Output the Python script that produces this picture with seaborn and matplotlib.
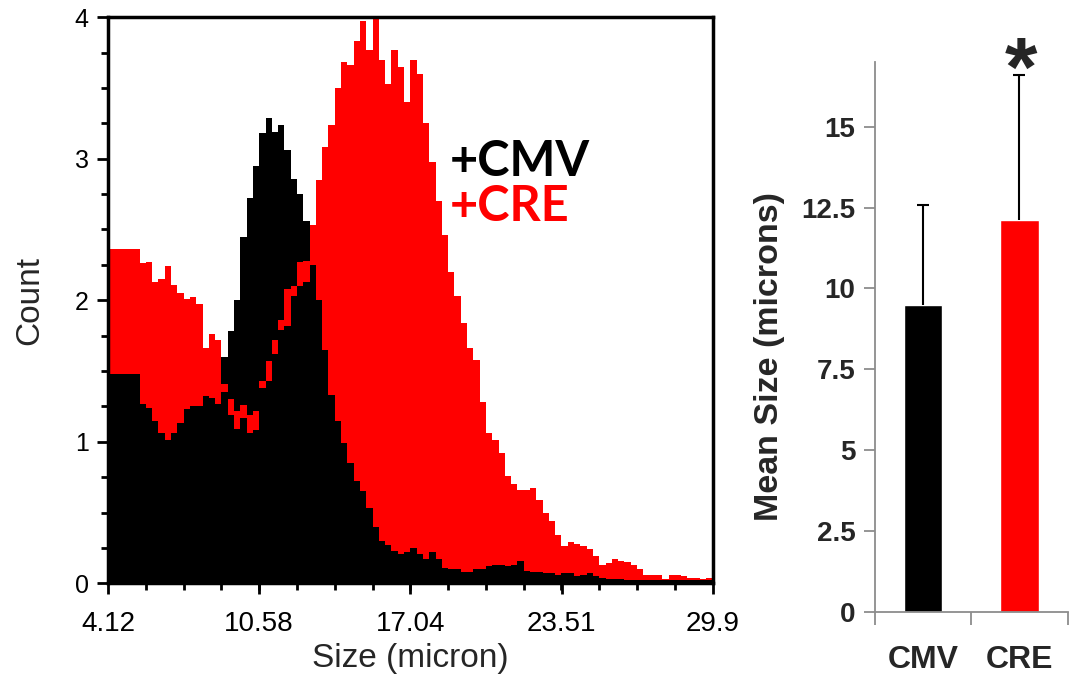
import numpy as np
import pandas as pd
import matplotlib
matplotlib.use("Agg")
import matplotlib.pyplot as plt
import seaborn as sns

x_lo, x_hi = 4.12, 29.97
x_ticks = [4.12, 10.58, 17.04, 23.51, 29.97]
x_ticklabels = ['4.12', '10.58', '17.04', '23.51', '29.9']

# black peak shown behind the red trace (CMV outline)
cmv_outer = [1.48, 1.48, 1.48, 1.48, 1.48, 1.27, 1.24, 1.15, 1.06, 1.01,
             1.06, 1.13, 1.23, 1.25, 1.25, 1.32, 1.31, 1.27, 1.60, 1.78,
             2.00, 2.45, 2.72, 2.95, 3.18, 3.29, 3.19, 3.24, 3.06, 2.86,
             2.75, 2.56, 2.25, 2.00, 1.65, 1.33, 1.15, 0.99, 0.85, 0.72,
             0.65, 0.53, 0.40, 0.30, 0.27, 0.23, 0.21, 0.22, 0.25, 0.21,
             0.17, 0.22, 0.17, 0.11, 0.10, 0.10, 0.08, 0.08, 0.10, 0.10,
             0.12, 0.13, 0.13, 0.12, 0.13, 0.16, 0.09, 0.08, 0.08, 0.07,
             0.07, 0.06, 0.07, 0.07, 0.05, 0.06, 0.07, 0.05, 0.04, 0.03,
             0.03, 0.03, 0.02, 0.02, 0.02, 0.02, 0.02, 0.02, 0.02, 0.02,
             0.02, 0.02, 0.02, 0.02, 0.02, 0.02]

# red trace (CRE)
cre_counts = [2.36, 2.36, 2.36, 2.36, 2.36, 2.26, 2.27, 2.13, 2.15, 2.24,
              2.11, 2.05, 2.01, 2.02, 1.97, 1.66, 1.76, 1.72, 1.41, 1.30,
              1.22, 1.26, 1.19, 1.22, 1.43, 1.57, 1.72, 1.86, 2.08, 2.10,
              2.27, 2.28, 2.53, 2.85, 3.08, 3.24, 3.50, 3.68, 3.66, 3.83,
              3.97, 3.77, 4.05, 3.70, 3.53, 3.77, 3.65, 3.40, 3.70, 3.60,
              3.25, 2.98, 2.70, 2.46, 2.20, 2.03, 1.84, 1.66, 1.58, 1.28,
              1.06, 1.01, 0.92, 0.76, 0.70, 0.66, 0.66, 0.67, 0.59, 0.50,
              0.44, 0.34, 0.26, 0.29, 0.28, 0.26, 0.24, 0.19, 0.13, 0.14,
              0.17, 0.16, 0.15, 0.13, 0.10, 0.06, 0.06, 0.06, 0.03, 0.06,
              0.06, 0.05, 0.04, 0.04, 0.03, 0.04]

# black fill drawn in front of the red trace
cmv_inner = [1.48, 1.48, 1.48, 1.48, 1.48, 1.27, 1.24, 1.15, 1.06, 1.01,
             1.06, 1.13, 1.23, 1.25, 1.25, 1.32, 1.31, 1.27, 1.35, 1.19,
             1.09, 1.17, 1.06, 1.08, 1.38, 1.43, 1.62, 1.79, 1.82, 2.03,
             2.10, 2.13, 2.25, 2.00, 1.65, 1.33, 1.15, 0.99, 0.85, 0.72,
             0.65, 0.53, 0.40, 0.30, 0.27, 0.23, 0.21, 0.22, 0.25, 0.21,
             0.17, 0.22, 0.17, 0.11, 0.10, 0.10, 0.08, 0.08, 0.10, 0.10,
             0.12, 0.13, 0.13, 0.12, 0.13, 0.16, 0.09, 0.08, 0.08, 0.07,
             0.07, 0.06, 0.07, 0.07, 0.05, 0.06, 0.07, 0.05, 0.04, 0.03,
             0.03, 0.03, 0.02, 0.02, 0.02, 0.02, 0.02, 0.02, 0.02, 0.02,
             0.02, 0.02, 0.02, 0.02, 0.02, 0.02]

# bar panel
groups = ['CMV', 'CRE']
mean_size = [9.5, 12.13]
sd_size = [3.08, 4.47]
bar_colors = ['#000000', '#ff0000']
bar_yticks = [0, 2.5, 5, 7.5, 10, 12.5, 15]
bar_yticklabels = ['0', '2.5', '5', '7.5', '10', '12.5', '15']

sns.set_style('ticks')
plt.rcParams['font.family'] = ['Liberation Sans', 'DejaVu Sans']

fig = plt.figure(figsize=(10.7, 6.87), dpi=100)

# ---- left: size histogram overlay ----
ax1 = fig.add_axes([0.101, 0.151, 0.565, 0.824])
edges = np.linspace(x_lo, x_hi, len(cre_counts) + 1)
centers = (edges[:-1] + edges[1:]) / 2
hist_df = pd.DataFrame({'size': centers, 'cmv_outer': cmv_outer,
                        'cre': cre_counts, 'cmv_inner': cmv_inner})

for col, colour in [('cmv_outer', 'black'), ('cre', '#ff0000'), ('cmv_inner', 'black')]:
    sns.histplot(data=hist_df, x='size', weights=col, bins=edges.tolist(), element='step',
                 fill=True, color=colour, alpha=1, linewidth=0, ax=ax1)

ax1.set_xlim(x_lo, x_hi)
ax1.set_ylim(0, 4)
ax1.set_xticks(x_ticks)
ax1.set_xticklabels(x_ticklabels)
ax1.set_xticks(np.linspace(x_lo, x_hi, 17), minor=True)
ax1.set_yticks([0, 1, 2, 3, 4])
ax1.set_yticks(np.arange(0, 4.01, 0.25), minor=True)
ax1.tick_params(which='major', direction='out', length=8, width=2, labelsize=20,
                color='black', labelcolor='black')
ax1.tick_params(which='minor', direction='out', length=5, width=2, color='black')
ax1.tick_params(axis='x', which='major', pad=12)
ax1.tick_params(axis='y', which='major', pad=6, labelsize=18)
for s in ax1.spines.values():
    s.set_linewidth(2.5)
    s.set_color('black')
ax1.set_xlabel('Size (micron)', fontsize=24, labelpad=4)
ax1.set_ylabel('Count', fontsize=24, labelpad=21)

ax1.text(0.565, 0.72, '+CMV', transform=ax1.transAxes, fontsize=35, fontweight='bold',
         color='black', family=['Lato', 'DejaVu Sans'], va='baseline')
ax1.text(0.565, 0.64, '+CRE', transform=ax1.transAxes, fontsize=35, fontweight='bold',
         color='#ff0000', family=['Lato', 'DejaVu Sans'], va='baseline')

# ---- right: mean size bars ----
ax2 = fig.add_axes([0.8178, 0.1092, 0.180, 0.8006])
sns.barplot(x=groups, y=mean_size, hue=groups, palette=bar_colors, saturation=1,
            width=0.4, legend=False, ax=ax2)
eb = ax2.errorbar([0, 1], mean_size, yerr=[[0, 0], sd_size], fmt='none', ecolor='black',
                  elinewidth=1.5, capsize=4, capthick=1.5)
eb[1][0].set_visible(False)

ax2.set_xlim(-0.5, 1.5)
ax2.set_ylim(0, 17)
ax2.set_yticks(bar_yticks)
ax2.set_yticklabels(bar_yticklabels)
ax2.set_xticks([-0.5, 0.5, 1.5], minor=True)
sns.despine(ax=ax2)
for s in ['left', 'bottom']:
    ax2.spines[s].set_color('#8c8c8c')
    ax2.spines[s].set_linewidth(1.3)
ax2.tick_params(axis='y', direction='out', length=8, width=1.3, color='#8c8c8c', pad=6)
ax2.tick_params(axis='x', which='major', length=0, pad=24)
ax2.tick_params(axis='x', which='minor', direction='out', length=9, width=1.3, color='#8c8c8c')
for lab in ax2.get_yticklabels():
    lab.set_fontsize(20)
    lab.set_fontweight('bold')
for lab in ax2.get_xticklabels():
    lab.set_fontsize(23)
    lab.set_fontweight('bold')
ax2.set_xlabel('')
ax2.set_ylabel('Mean Size (microns)', fontsize=24.5, fontweight='bold')
ax2.yaxis.set_label_coords(-0.47, 0.465)

fig.text(1021 / 1070, 1 - 96 / 687, '*', fontsize=60, fontweight='bold',
         ha='center', va='baseline')

fig.savefig('out.png', dpi=100)
